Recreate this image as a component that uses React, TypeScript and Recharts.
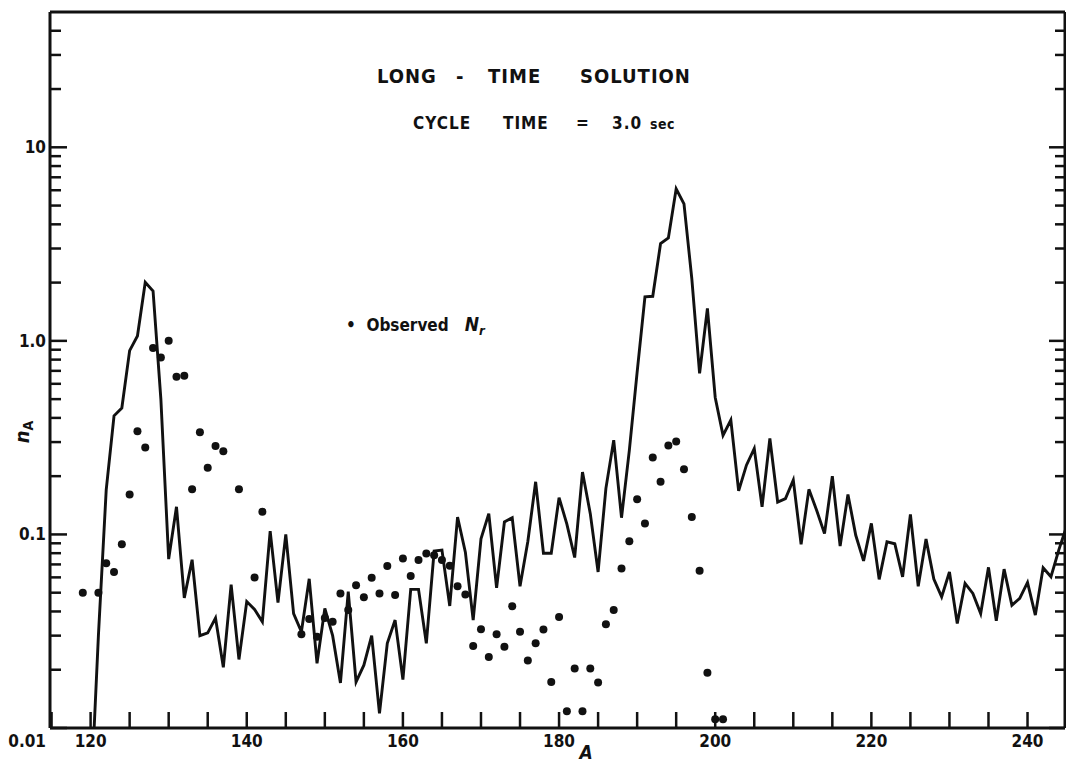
import React from 'react';
import { ComposedChart, Line, Scatter, XAxis, YAxis } from 'recharts';

// calculated n_A, one value per mass number starting at A = 120
const calcStartA = 120;
const calcN = [
  0.004, 0.03, 0.17, 0.41, 0.45, 0.89, 1.06, 2.01, 1.81, 0.5,
  0.0746, 0.139, 0.047, 0.074, 0.03, 0.031, 0.037, 0.0206, 0.055, 0.0226,
  0.045, 0.041, 0.0354, 0.104, 0.0444, 0.1, 0.039, 0.0314, 0.059, 0.0216,
  0.0415, 0.03, 0.0171, 0.0506, 0.0173, 0.0211, 0.03, 0.0119, 0.0274, 0.0361,
  0.0178, 0.052, 0.052, 0.0274, 0.082, 0.083, 0.0427, 0.123, 0.081, 0.0361,
  0.095, 0.128, 0.053, 0.116, 0.122, 0.054, 0.092, 0.187, 0.08, 0.08,
  0.155, 0.113, 0.076, 0.21, 0.128, 0.064, 0.173, 0.307, 0.122, 0.272,
  0.69, 1.69, 1.7, 3.18, 3.4, 6.1, 5.1, 2.1, 0.68, 1.47,
  0.51, 0.325, 0.39, 0.168, 0.228, 0.278, 0.139, 0.313, 0.147, 0.153,
  0.191, 0.089, 0.171, 0.133, 0.101, 0.2, 0.087, 0.161, 0.099, 0.073,
  0.114, 0.0586, 0.0916, 0.0895, 0.0604, 0.127, 0.054, 0.0946, 0.0588, 0.0476,
  0.064, 0.0347, 0.0558, 0.0496, 0.039, 0.0676, 0.0358, 0.0662, 0.0431, 0.0467,
  0.0565, 0.0383, 0.0673, 0.0604, 0.083, 0.11,
];

// observed N_r
const obsA = [
  119, 121, 122, 123, 124, 125, 126, 127, 128, 129, 130, 131, 132, 133, 134, 135, 136, 137, 139, 141, 142,
  147, 148, 149, 150, 151, 152, 153, 154, 155, 156, 157, 158, 159, 160, 161, 162, 163, 164, 165, 166, 167, 168,
  169, 170, 171, 172, 173, 174, 175, 176, 177, 178, 179, 180, 181, 182, 183, 184, 185, 186, 187, 188, 189, 190,
  191, 192, 193, 194, 195, 196, 197, 198, 199, 200, 201,
];
const obsN = [
  0.05, 0.05, 0.071, 0.064, 0.089, 0.161, 0.341, 0.281, 0.918, 0.82, 1.0, 0.652, 0.66, 0.171, 0.337, 0.221, 0.286, 0.269, 0.171, 0.06, 0.131,
  0.0305, 0.0366, 0.0296, 0.037, 0.0354, 0.0496, 0.0407, 0.0547, 0.0473, 0.0597, 0.0496, 0.0686, 0.0486, 0.0752, 0.061, 0.0737, 0.0798, 0.078, 0.0737, 0.0689, 0.054, 0.049,
  0.0265, 0.0324, 0.0233, 0.0305, 0.0263, 0.0426, 0.0314, 0.0223, 0.0274, 0.0323, 0.0173, 0.0375, 0.0122, 0.0203, 0.0122, 0.0203, 0.0172, 0.0344, 0.0407, 0.0667, 0.0923, 0.152,
  0.114, 0.25, 0.187, 0.288, 0.302, 0.217, 0.123, 0.0649, 0.0193, 0.0111, 0.0111,
];

const xTicks = [115, 120, 125, 130, 135, 140, 145, 150, 155, 160, 165, 170, 175, 180, 185, 190, 195, 200, 205, 210, 215, 220, 225, 230, 235, 240];
const xLabels = [120, 140, 160, 180, 200, 220, 240];
const yTicks = [
  0.01, 0.02, 0.03, 0.04, 0.05, 0.06, 0.07, 0.08, 0.09,
  0.1, 0.2, 0.3, 0.4, 0.5, 0.6, 0.7, 0.8, 0.9,
  1, 2, 3, 4, 5, 6, 7, 8, 9,
  10, 20, 30, 40,
];
const yLabels: Record<string, string> = { '0.01': '0.01', '0.1': '0.1', '1': '1.0', '10': '10' };

const calcRows = calcN.map((n, i) => ({ A: calcStartA + i, n }));
const obsRows = obsA.map((A, i) => ({ A, n: obsN[i] }));

const FONT = '"Liberation Sans Narrow", "DejaVu Sans Condensed", "Liberation Sans", sans-serif';
const INK = '#111';

const isDecade = (v: number) => Math.abs(Math.log10(v) - Math.round(Math.log10(v))) < 1e-6;

const BottomTick = (p: any) => {
  const v = p.payload.value;
  const lab = xLabels.includes(v);
  return (
    <g>
      <line x1={p.x} x2={p.x} y1={p.y} y2={p.y - 16} stroke={INK} strokeWidth={2.5} />
      {lab && (
        <text x={p.x} y={p.y + 19} textAnchor="middle" fontFamily={FONT} fontWeight={700} fontSize={17} fill={INK}>
          {v}
        </text>
      )}
    </g>
  );
};

const TopTick = (p: any) => (
  <line x1={p.x} x2={p.x} y1={p.y} y2={p.y + 18} stroke={INK} strokeWidth={2.5} />
);

const LeftTick = (p: any) => {
  const v = p.payload.value;
  const major = isDecade(v);
  const lab = yLabels[String(v)];
  return (
    <g>
      <line x1={p.x} x2={p.x + (major ? 17 : 11)} y1={p.y} y2={p.y} stroke={INK} strokeWidth={2.5} />
      {lab && (
        <text x={p.x - 4} y={p.y + (v === 0.01 ? 19 : 6)} textAnchor="end" fontFamily={FONT} fontWeight={700} fontSize={17} fill={INK}>
          {lab}
        </text>
      )}
    </g>
  );
};

const RightTick = (p: any) => {
  const major = isDecade(p.payload.value);
  return <line x1={p.x} x2={p.x - (major ? 16 : 10)} y1={p.y} y2={p.y} stroke={INK} strokeWidth={2.5} />;
};

const Dot = (p: any) => <circle cx={p.cx} cy={p.cy} r={4} fill={INK} />;

const word = (left: number, top: number, size: number, text: string, extra: React.CSSProperties = {}) => (
  <div style={{ position: 'absolute', left, top, fontFamily: FONT, fontWeight: 700, fontSize: size, lineHeight: 1, letterSpacing: 1, whiteSpace: 'pre', color: INK, ...extra }}>
    {text}
  </div>
);

export default function App() {
  return (
    <div style={{ position: 'absolute', left: 0, top: 0, width: 1066, height: 764, background: '#fff', overflow: 'hidden' }}>
      <ComposedChart width={1066} height={764} margin={{ top: 0, right: 0, bottom: 0, left: 0 }}>
        <XAxis
          xAxisId="b" dataKey="A" type="number" domain={[114.8, 244.8]} allowDataOverflow
          ticks={xTicks} interval={0} tickSize={0} tickMargin={0} tickLine={false}
          axisLine={{ stroke: INK, strokeWidth: 3 }} height={36} tick={BottomTick}
        />
        <XAxis
          xAxisId="t" orientation="top" type="number" domain={[114.8, 244.8]} allowDataOverflow
          ticks={xTicks} interval={0} tickSize={0} tickMargin={0} tickLine={false}
          axisLine={{ stroke: INK, strokeWidth: 3 }} height={12} tick={TopTick}
        />
        <YAxis
          yAxisId="l" type="number" scale="log" domain={[0.01, 50]} allowDataOverflow
          ticks={yTicks} interval={0} tickSize={0} tickMargin={0} tickLine={false}
          axisLine={{ stroke: INK, strokeWidth: 3 }} width={50} tick={LeftTick}
        />
        <YAxis
          yAxisId="r" orientation="right" type="number" scale="log" domain={[0.01, 50]} allowDataOverflow
          ticks={yTicks} interval={0} tickSize={0} tickMargin={0} tickLine={false}
          axisLine={{ stroke: INK, strokeWidth: 3 }} width={1} tick={RightTick}
        />
        <Line
          xAxisId="b" yAxisId="l" data={calcRows} dataKey="n" type="linear"
          stroke={INK} strokeWidth={2.9} dot={false} isAnimationActive={false}
        />
        <Scatter xAxisId="b" yAxisId="l" data={obsRows} dataKey="n" shape={Dot} isAnimationActive={false} />
      </ComposedChart>

      {/* title, word by word to keep the wide lettering gaps */}
      {word(377, 66, 20, 'LONG')}
      {word(456, 66, 20, '-')}
      {word(488, 66, 20, 'TIME')}
      {word(580, 66, 20, 'SOLUTION')}
      {word(413, 115, 17, 'CYCLE')}
      {word(503, 115, 17, 'TIME')}
      {word(576, 115, 17, '=')}
      {word(612, 115, 17, '3.0')}
      {word(650, 117, 14, 'sec', { letterSpacing: 0.5 })}

      <div style={{ position: 'absolute', left: 346, top: 315, fontFamily: FONT, fontWeight: 700, fontSize: 17, lineHeight: 1, whiteSpace: 'pre', color: INK }}>
        {'•  Observed   '}
        <span style={{ fontStyle: 'italic', fontSize: 19 }}>N</span>
        <span style={{ fontStyle: 'italic', fontSize: 13, position: 'relative', top: 4 }}>r</span>
      </div>
      <div style={{ position: 'absolute', left: 586, top: 743, transform: 'translateX(-50%)', fontFamily: FONT, fontWeight: 700, fontStyle: 'italic', fontSize: 19, lineHeight: 1, color: INK }}>
        A
      </div>
      <div style={{ position: 'absolute', left: 22, top: 432, transform: 'translate(-50%, -50%) rotate(-90deg)', fontFamily: FONT, fontWeight: 700, fontSize: 20, lineHeight: 1, whiteSpace: 'pre', color: INK }}>
        <span style={{ fontStyle: 'italic' }}>n</span>
        <span style={{ fontSize: 14, position: 'relative', top: 4 }}>A</span>
      </div>
    </div>
  );
}
